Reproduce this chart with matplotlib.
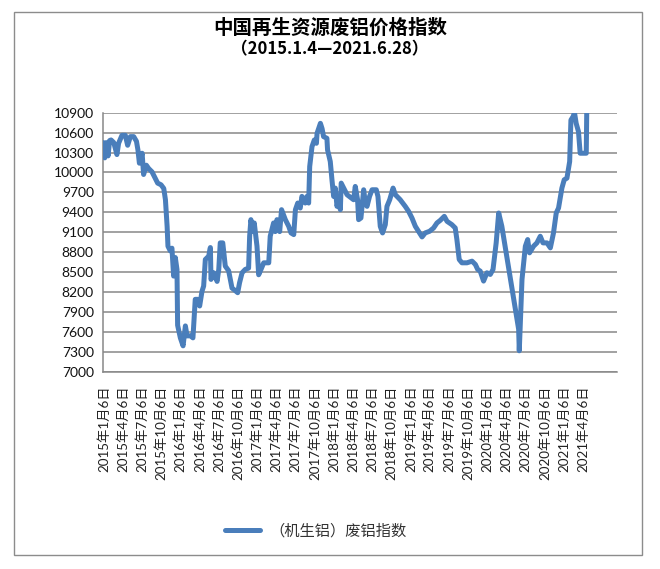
import matplotlib
matplotlib.use("Agg")
import matplotlib.pyplot as plt
import matplotlib.dates as mdates
from matplotlib.patches import Rectangle
import pandas as pd

plt.rcParams['font.family'] = ['Lato', 'Noto Sans CJK SC', 'DejaVu Sans']

title = "中国再生资源废铝价格指数"
subtitle = "（2015.1.4—2021.6.28）"
series_name = "（机生铝）废铝指数"

dates = [
    "2015-01-04", "2015-01-11", "2015-01-18", "2015-01-27", "2015-02-03", "2015-02-10", "2015-02-23",
    "2015-03-10", "2015-03-18", "2015-04-03", "2015-04-19", "2015-04-30", "2015-05-13", "2015-05-29",
    "2015-06-11", "2015-06-18", "2015-06-25", "2015-07-08", "2015-07-15", "2015-07-28", "2015-08-08",
    "2015-08-24", "2015-09-09", "2015-09-20", "2015-10-06", "2015-10-19", "2015-10-27", "2015-11-04",
    "2015-11-08", "2015-11-19", "2015-11-27", "2015-12-05", "2015-12-13", "2015-12-21", "2015-12-24",
    "2016-01-06", "2016-01-19", "2016-01-30", "2016-02-07", "2016-02-23", "2016-03-06", "2016-03-17",
    "2016-03-29", "2016-04-07", "2016-04-18", "2016-04-26", "2016-05-04", "2016-05-20", "2016-05-28",
    "2016-05-31", "2016-06-13", "2016-06-29", "2016-07-07", "2016-07-14", "2016-07-26", "2016-08-07",
    "2016-08-23", "2016-09-08", "2016-09-24", "2016-10-05", "2016-10-14", "2016-10-26", "2016-11-10",
    "2016-11-26", "2016-12-01", "2016-12-07", "2016-12-17", "2016-12-23",
    "2017-01-05", "2017-01-13", "2017-01-24", "2017-02-06", "2017-03-02", "2017-03-09", "2017-03-25",
    "2017-04-02", "2017-04-10", "2017-04-23", "2017-05-02", "2017-05-20", "2017-06-05", "2017-06-16",
    "2017-06-29", "2017-07-07", "2017-07-18", "2017-07-30", "2017-08-07", "2017-08-23", "2017-08-31",
    "2017-09-08", "2017-09-13", "2017-09-24", "2017-10-05", "2017-10-15", "2017-10-18", "2017-10-26",
    "2017-11-03", "2017-11-11", "2017-11-18", "2017-12-04", "2017-12-07", "2017-12-20", "2017-12-28",
    "2018-01-05", "2018-01-13", "2018-01-21", "2018-01-29", "2018-02-06", "2018-02-10", "2018-03-10",
    "2018-04-10", "2018-04-18", "2018-04-29", "2018-05-04", "2018-05-15", "2018-05-28", "2018-06-05",
    "2018-06-13", "2018-06-25", "2018-07-07", "2018-07-27", "2018-08-04", "2018-08-15", "2018-08-26",
    "2018-09-08", "2018-09-16", "2018-09-29", "2018-10-15", "2018-10-26", "2018-11-18", "2018-12-12",
    "2018-12-28",
    "2019-01-13", "2019-01-29", "2019-02-18", "2019-03-02", "2019-03-17", "2019-04-07", "2019-04-26",
    "2019-05-12", "2019-05-28", "2019-06-16", "2019-06-29", "2019-07-22", "2019-08-07", "2019-08-15",
    "2019-08-26", "2019-09-08", "2019-10-02", "2019-10-26", "2019-11-11", "2019-11-22", "2019-12-04",
    "2019-12-20",
    "2020-01-05", "2020-01-21", "2020-02-03", "2020-02-18", "2020-03-01", "2020-03-16", "2020-06-04",
    "2020-06-07", "2020-06-20", "2020-07-06", "2020-07-17", "2020-07-26", "2020-08-14", "2020-08-30",
    "2020-09-15", "2020-09-28", "2020-10-17", "2020-11-02", "2020-11-17", "2020-11-30", "2020-12-11",
    "2020-12-27",
    "2021-01-07", "2021-01-20", "2021-02-02", "2021-02-08", "2021-02-18", "2021-02-25", "2021-03-05",
    "2021-03-16", "2021-03-24", "2021-04-22", "2021-04-25",
]

values = [
    10450, 10220, 10450, 10250, 10480, 10490, 10450,
    10270, 10440, 10560, 10560, 10410, 10540, 10540,
    10470, 10340, 10140, 10290, 9970, 10110, 10060,
    10010, 9910, 9840, 9815, 9760, 9590, 9190,
    8890, 8820, 8860, 8440, 8720, 8540, 7700,
    7510, 7390, 7690, 7540, 7540, 7510, 8090,
    8090, 7990, 8210, 8290, 8690, 8740, 8870,
    8390, 8490, 8360, 8540, 8940, 8940, 8590,
    8520, 8260, 8220, 8190, 8340, 8490, 8540,
    8560, 9040, 9290, 9110, 9240,
    8890, 8460, 8540, 8640, 8640, 9040, 9240,
    9110, 9290, 9110, 9440, 9290, 9190, 9090,
    9065, 9440, 9540, 9465, 9640, 9540, 9640,
    9540, 10090, 10390, 10490, 10440, 10590, 10665,
    10740, 10660, 10540, 10515, 10340, 10165, 9890,
    9640, 9765, 9490, 9590, 9440, 9840, 9665,
    9590, 9790, 9590, 9290, 9315, 9740, 9540,
    9490, 9640, 9740, 9740, 9640, 9190, 9090,
    9215, 9490, 9590, 9765, 9665, 9590, 9490,
    9415,
    9315, 9190, 9090, 9030, 9090, 9115, 9165,
    9240, 9280, 9340, 9265, 9215, 9165, 8990,
    8690, 8640, 8640, 8665, 8615, 8540, 8515,
    8365,
    8490, 8465, 8540, 8940, 9390, 9190, 7640,
    7315, 8390, 8890, 8990, 8790, 8890, 8940,
    9040, 8940, 8940, 8865, 9090, 9390, 9465,
    9765,
    9890, 9915, 10165, 10790, 10840, 10900, 10740,
    10615, 10290, 10290, 11100,
]

tick_dates = [f"{y}-{m:02d}-06" for y in range(2015, 2022) for m in (1, 4, 7, 10)
              if not (y == 2021 and m > 4)]
tick_labels = [f"{int(d[:4])}年{int(d[5:7])}月6日" for d in tick_dates]
y_ticks = list(range(7000, 10901, 300))

line_color = "#4a7ebb"
grid_color = "#878787"

fig = plt.figure(figsize=(6.6, 5.69), dpi=100)
ax = fig.add_axes([0.1568, 0.3467, 0.9344 - 0.1568, 0.8019 - 0.3467])

x = pd.to_datetime(dates)
ax.plot(x, values, color=line_color, lw=3.6, solid_joinstyle='round',
        solid_capstyle='round', label=series_name, zorder=3)

ax.set_ylim(7000, 10900)
ax.set_yticks(y_ticks)
ax.set_yticklabels([str(v) for v in y_ticks], fontsize=10, color="#111111")
ax.set_xlim(pd.Timestamp("2015-01-05"), pd.Timestamp("2021-09-14"))
ax.set_xticks(pd.to_datetime(tick_dates))
ax.set_xticklabels(tick_labels, rotation=90, fontsize=9.6, color="#222222",
                   family=['Lato', 'Noto Sans CJK SC'])
ax.tick_params(axis='both', length=0)
ax.tick_params(axis='y', pad=7)
ax.tick_params(axis='x', pad=10)

ax.grid(axis='y', color=grid_color, lw=1.1, zorder=1)
ax.set_axisbelow(True)
for s in ('top', 'right'):
    ax.spines[s].set_visible(False)
for s in ('left', 'bottom'):
    ax.spines[s].set_color(grid_color)
    ax.spines[s].set_linewidth(1.1)

fig.text(0.5, 1 - 28 / 569, title, ha='center', va='center', fontsize=14,
         fontweight='bold', family=['Noto Sans CJK SC'])
fig.text(0.5, 1 - 49 / 569, subtitle, ha='center', va='center', fontsize=12,
         fontweight='bold', family=['Noto Sans CJK SC'])

leg = fig.legend(loc='center', bbox_to_anchor=(316 / 660, 1 - 531 / 569), frameon=False,
                 handlelength=2.3, handletextpad=0.6,
                 prop={'family': 'Noto Sans CJK SC', 'size': 11})
for t in leg.get_texts():
    t.set_color("#333333")

fig.patches.append(Rectangle((14 / 660, 1 - 555 / 569), 628 / 660, 543 / 569,
                             transform=fig.transFigure, fill=False,
                             edgecolor="#8c8c8c", lw=1.0))

fig.savefig("out.png", dpi=100)
